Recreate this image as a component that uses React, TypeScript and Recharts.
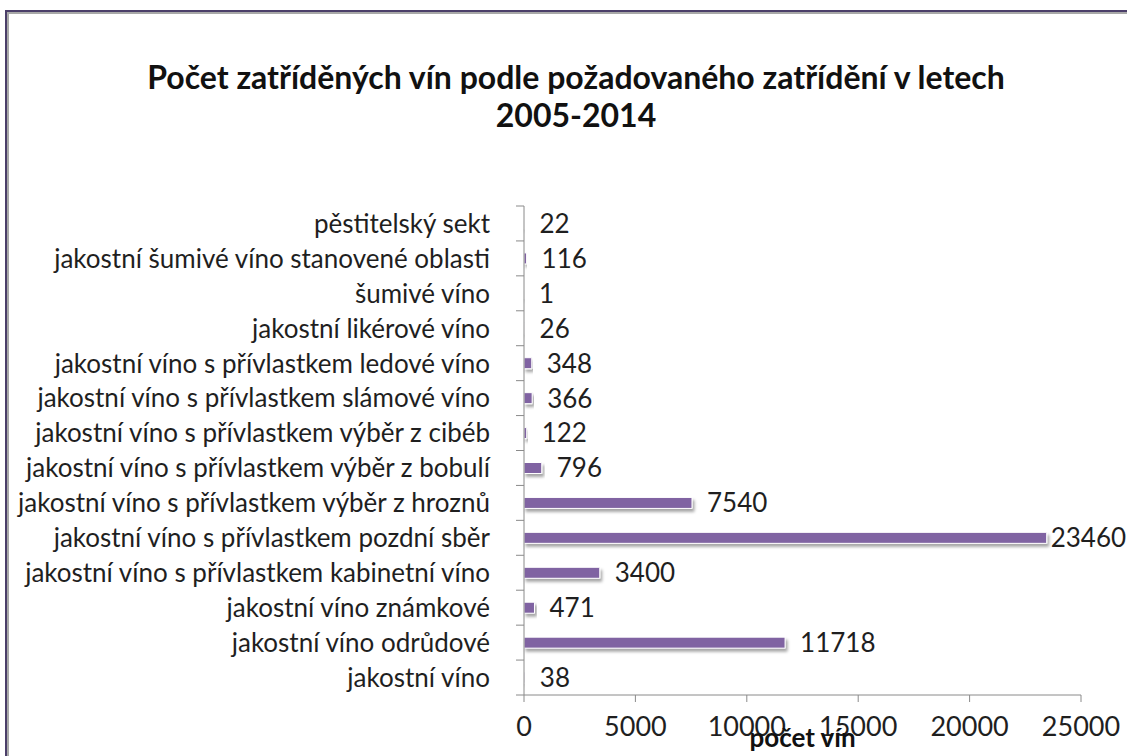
import React from "react";
import { BarChart, Bar, XAxis, YAxis, LabelList } from "recharts";

// kategorie shora dolů, jak jsou v grafu
const categories = [
  "pěstitelský sekt",
  "jakostní šumivé víno stanovené oblasti",
  "šumivé víno",
  "jakostní likérové víno",
  "jakostní víno s přívlastkem ledové víno",
  "jakostní víno s přívlastkem slámové víno",
  "jakostní víno s přívlastkem výběr z cibéb",
  "jakostní víno s přívlastkem výběr z bobulí",
  "jakostní víno s přívlastkem výběr z hroznů",
  "jakostní víno s přívlastkem pozdní sběr",
  "jakostní víno s přívlastkem kabinetní víno",
  "jakostní víno známkové",
  "jakostní víno odrůdové",
  "jakostní víno",
];
const counts = [22, 116, 1, 26, 348, 366, 122, 796, 7540, 23460, 3400, 471, 11718, 38];
const xTicks = [0, 5000, 10000, 15000, 20000, 25000];

const W = 1127;
const H = 756;
const PLOT_LEFT = 524;
const PLOT_TOP = 206;
const PLOT_BOTTOM = 61;
const BAR_COLOR = "#8064A2";
const FONT = "Lato, 'Open Sans', sans-serif";

const data = categories.map((name, i) => ({ name, value: counts[i] }));
const band = (H - PLOT_TOP - PLOT_BOTTOM) / categories.length;

const CategoryTick = (props: any) => {
  const { x, y, payload, index } = props;
  const last = index === categories.length - 1;
  return (
    <g>
      <text x={x} y={y} dy="0.36em" textAnchor="end" fill="#1f1f1f" fontSize={26} fontFamily={FONT}>
        {payload.value}
      </text>
      <line x1={PLOT_LEFT - 8} x2={PLOT_LEFT} y1={y - band / 2} y2={y - band / 2} stroke="#8a8a8a" />
      {last && (
        <line x1={PLOT_LEFT - 8} x2={PLOT_LEFT} y1={y + band / 2} y2={y + band / 2} stroke="#8a8a8a" />
      )}
    </g>
  );
};

const ValueLabel = (props: any) => {
  const { x, y, width, height, value } = props;
  const end = x + width;
  // excel posune popisek u nejdelšího pruhu blíž
  const lx = end > 1000 ? end + 4 : end + 15;
  return (
    <text x={lx} y={y + height / 2} dy="0.36em" fill="#1f1f1f" fontSize={26} fontFamily={FONT}>
      {value}
    </text>
  );
};

export default function App() {
  return (
    <div style={{ position: "absolute", left: 0, top: 0, width: W, height: H, overflow: "hidden", background: "#fff" }}>
      <div
        style={{
          position: "absolute",
          left: 5,
          top: 10,
          width: W + 20,
          height: H + 20,
          borderLeft: "2px solid #4b3e69",
          borderTop: "2px solid #4b3e69",
          boxShadow: "inset 2px 2px 0 #a8a8a8",
        }}
      />
      <div
        style={{
          position: "absolute",
          left: 0,
          top: 58,
          width: 1152,
          textAlign: "center",
          fontFamily: FONT,
          fontWeight: 700,
          fontSize: 32,
          lineHeight: "38px",
          color: "#111",
        }}
      >
        Počet zatříděných vín podle požadovaného zatřídění v letech
        <br />
        2005-2014
      </div>
      <div style={{ position: "absolute", left: 0, top: 0 }}>
        <BarChart
          width={W}
          height={H}
          data={data}
          layout="vertical"
          margin={{ top: PLOT_TOP, right: W - 1081, bottom: 0, left: 0 }}
          barSize={11}
        >
          <defs>
            <filter id="barShadow" x="-5%" y="-50%" width="120%" height="250%">
              <feDropShadow dx="2" dy="3" stdDeviation="1.6" floodColor="#000" floodOpacity="0.35" />
            </filter>
          </defs>
          <XAxis
            type="number"
            domain={[0, 25000]}
            ticks={xTicks}
            height={PLOT_BOTTOM}
            tickSize={7}
            tickMargin={15}
            axisLine={{ stroke: "#8a8a8a" }}
            tickLine={{ stroke: "#8a8a8a" }}
            tick={{ fill: "#1f1f1f", fontSize: 27, fontFamily: FONT }}
            label={{
              value: "počet vín",
              position: "insideBottom",
              offset: 9,
              fill: "#111",
              fontSize: 26,
              fontWeight: 700,
              fontFamily: FONT,
            }}
          />
          <YAxis
            type="category"
            dataKey="name"
            width={PLOT_LEFT}
            interval={0}
            tickSize={8}
            tickMargin={26}
            tickLine={false}
            axisLine={{ stroke: "#8a8a8a" }}
            tick={<CategoryTick />}
          />
          <Bar
            dataKey="value"
            fill={BAR_COLOR}
            stroke="#ffffff"
            strokeWidth={1}
            filter="url(#barShadow)"
            isAnimationActive={false}
          >
            <LabelList dataKey="value" content={<ValueLabel />} />
          </Bar>
        </BarChart>
      </div>
    </div>
  );
}
